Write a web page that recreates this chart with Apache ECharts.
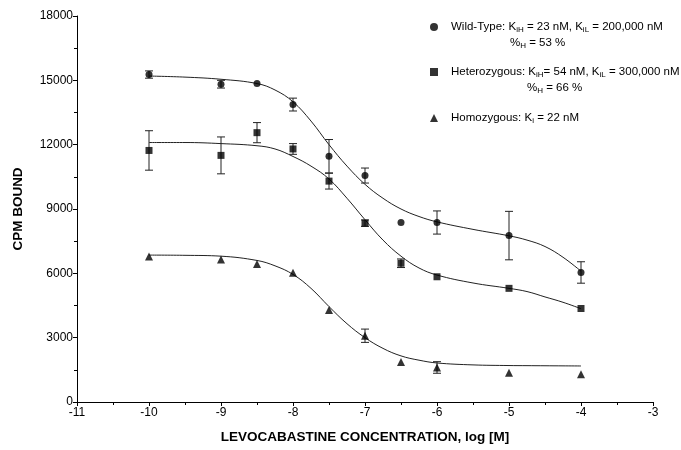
<!DOCTYPE html>
<html>
<head>
<meta charset="utf-8">
<script src="https://cdn.jsdelivr.net/npm/echarts@6/dist/echarts.min.js"></script>
<style>html,body{margin:0;padding:0;background:#fff;}#chart{width:681px;height:450px;}</style>
</head>
<body>
<div id="chart"></div>
<script>
// ---- data ----
var concLog = [-10, -9, -8.5, -8, -7.5, -7, -6.5, -6, -5, -4];
var wildVals = [15270, 14820, 14850, 13870, 11460, 10560, 8370, 8370, 7760, 6040];
var wildErr  = [170, 180, 0, 300, 780, 350, 0, 540, 1130, 500];
var hetVals  = [11730, 11500, 12560, 11800, 10300, 8340, 6470, 5840, 5300, 4360];
var hetErr   = [920, 860, 470, 250, 370, 150, 200, 0, 0, 0];
var homVals  = [6780, 6650, 6440, 6030, 4290, 3090, 1870, 1610, 1360, 1290];
var homErr   = [0, 0, 0, 0, 0, 310, 0, 270, 0, 0];

var fitX    = [-10, -9.5, -9, -8.5, -8.25, -8, -7.75, -7.5, -7.25, -7, -6.75, -6.5, -6.25, -6, -5.5, -5, -4.75, -4.5, -4.25, -4];
var wildFit = [15200, 15150, 15050, 14850, 14550, 14000, 13100, 12000, 11000, 10150, 9500, 9000, 8650, 8400, 8050, 7750, 7550, 7250, 6750, 6100];
var hetFit  = [12100, 12100, 12050, 11950, 11800, 11450, 11000, 10400, 9500, 8500, 7550, 6800, 6250, 5920, 5550, 5300, 5150, 4900, 4650, 4350];
var homFit  = [6850, 6840, 6800, 6600, 6350, 5950, 5300, 4450, 3650, 3000, 2500, 2150, 1950, 1820, 1730, 1700, 1695, 1690, 1685, 1680];

var yTicks = [0, 3000, 6000, 9000, 12000, 15000, 18000];
var xTicks = [-11, -10, -9, -8, -7, -6, -5, -4, -3];

var seriesNames = ['Wild-Type', 'Heterozygous', 'Homozygous'];
var FONT = 'Liberation Sans, Arial, Helvetica, sans-serif';

function pts(xs, ys) { return xs.map(function (x, i) { return [x, ys[i]]; }); }
function errPts(xs, ys, es) {
  var out = [];
  xs.forEach(function (x, i) { if (es[i] > 0) out.push([x, ys[i] - es[i], ys[i] + es[i]]); });
  return out;
}
function errSeries(data) {
  return {
    type: 'custom', silent: true, z: 3,
    data: data,
    encode: { x: 0, y: [1, 2] },
    renderItem: function (params, api) {
      var lo = api.coord([api.value(0), api.value(1)]);
      var hi = api.coord([api.value(0), api.value(2)]);
      var w = 4;
      var st = { stroke: '#222', lineWidth: 1 };
      return { type: 'group', children: [
        { type: 'line', shape: { x1: lo[0], y1: lo[1], x2: hi[0], y2: hi[1] }, style: st },
        { type: 'line', shape: { x1: lo[0] - w, y1: lo[1], x2: lo[0] + w, y2: lo[1] }, style: st },
        { type: 'line', shape: { x1: hi[0] - w, y1: hi[1], x2: hi[0] + w, y2: hi[1] }, style: st }
      ]};
    }
  };
}
function fitSeries(name, ys) {
  return { name: name, type: 'line', data: pts(fitX, ys), showSymbol: false, smooth: 0.4,
    lineStyle: { color: '#222', width: 1 }, silent: true, z: 2 };
}

var rich = {
  sp: { width: 8 },
  t: { fontSize: 11.5, fontFamily: FONT, color: '#000' },
  s: { fontSize: 8, fontFamily: FONT, color: '#000', verticalAlign: 'bottom', padding: [6, 0, 0, 0] }
};
var legendText = {
  'Wild-Type': '{sp|}{t|Wild-Type: K}{s|iH}{t| = 23 nM, K}{s|iL}{t| = 200,000 nM}',
  'Heterozygous': '{sp|}{t|Heterozygous: K}{s|iH}{t|= 54 nM, K}{s|iL}{t| = 300,000 nM}',
  'Homozygous': '{sp|}{t|Homozygous: K}{s|i}{t| = 22 nM}'
};
function mkLegend(name, top) {
  return { data: [name], orient: 'vertical', left: 430, top: top, itemWidth: 8, itemHeight: 8,
    selectedMode: false, padding: 0,
    formatter: function (n) { return legendText[n]; },
    textStyle: { rich: rich } };
}

var chart = echarts.init(document.getElementById('chart'));
chart.setOption({
  animation: false,
  backgroundColor: '#fff',
  grid: { left: 77, right: 28, top: 16, bottom: 48, containLabel: false },
  legend: [mkLegend(seriesNames[0], 21), mkLegend(seriesNames[1], 66), mkLegend(seriesNames[2], 112)],
  graphic: [
    { type: 'text', left: 510, top: 37, style: { text: '{t|%}{s|H}{t| = 53 %}', rich: rich } },
    { type: 'text', left: 527, top: 82, style: { text: '{t|%}{s|H}{t| = 66 %}', rich: rich } }
  ],
  xAxis: {
    type: 'value', min: xTicks[0], max: xTicks[xTicks.length - 1], interval: 1,
    name: 'LEVOCABASTINE CONCENTRATION, log [M]', nameLocation: 'middle', nameGap: 28,
    nameTextStyle: { fontFamily: FONT, fontWeight: 'bold', fontSize: 13.5, color: '#000' },
    axisLine: { lineStyle: { color: '#000', width: 1 } },
    axisTick: { length: 4, lineStyle: { color: '#000' } },
    minorTick: { show: true, splitNumber: 2, length: 3, lineStyle: { color: '#000' } },
    axisLabel: { fontFamily: FONT, fontSize: 12, color: '#000', margin: 5 },
    splitLine: { show: false }
  },
  yAxis: {
    type: 'value', min: yTicks[0], max: yTicks[yTicks.length - 1], interval: 3000,
    name: 'CPM BOUND', nameLocation: 'middle', nameGap: 52, nameRotate: 90,
    nameTextStyle: { fontFamily: FONT, fontWeight: 'bold', fontSize: 13.5, color: '#000' },
    axisLine: { show: true, lineStyle: { color: '#000', width: 1 } },
    axisTick: { show: true, length: 4, lineStyle: { color: '#000' } },
    minorTick: { show: true, splitNumber: 2, length: 3, lineStyle: { color: '#000' } },
    axisLabel: { fontFamily: FONT, fontSize: 12, color: '#000', margin: 4, formatter: function (v) { return String(v); } },
    splitLine: { show: false }
  },
  series: [
    fitSeries('Wild-Type fit', wildFit),
    fitSeries('Heterozygous fit', hetFit),
    fitSeries('Homozygous fit', homFit),
    errSeries(errPts(concLog, wildVals, wildErr)),
    errSeries(errPts(concLog, hetVals, hetErr)),
    errSeries(errPts(concLog, homVals, homErr)),
    { name: seriesNames[0], type: 'scatter', data: pts(concLog, wildVals), symbol: 'circle', symbolSize: 7,
      itemStyle: { color: '#000' }, z: 4 },
    { name: seriesNames[1], type: 'scatter', data: pts(concLog, hetVals), symbol: 'rect', symbolSize: 7,
      itemStyle: { color: '#000' }, z: 4 },
    { name: seriesNames[2], type: 'scatter', data: pts(concLog, homVals), symbol: 'triangle', symbolSize: 8,
      itemStyle: { color: '#000' }, z: 4 }
  ]
});
</script>
</body>
</html>
